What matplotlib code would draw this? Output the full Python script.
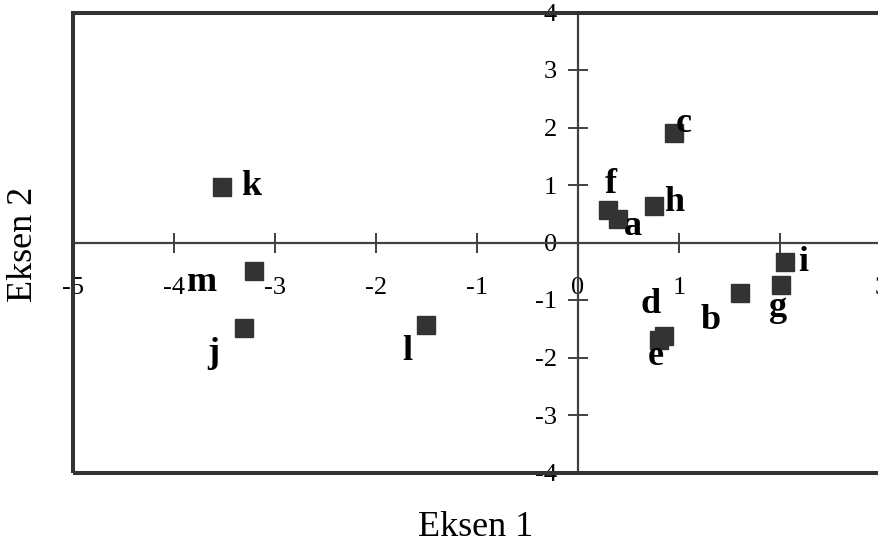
import matplotlib
matplotlib.use("Agg")
import matplotlib.pyplot as plt
from matplotlib.patches import Rectangle

# ---- data ----
labels = ["a", "b", "c", "d", "e", "f", "g", "h", "i", "j", "k", "l", "m"]
eksen1 = [0.40, 1.60, 0.95, 0.85, 0.80, 0.30, 2.01, 0.75, 2.05, -3.31, -3.52, -1.50, -3.21]
eksen2 = [0.41, -0.88, 1.90, -1.63, -1.70, 0.57, -0.74, 0.63, -0.34, -1.49, 0.97, -1.43, -0.49]
x_ticks = [-5, -4, -3, -2, -1, 0, 1, 2, 3]
y_ticks = [-4, -3, -2, -1, 0, 1, 2, 3, 4]

# label offsets in pixels (dx right, dy down)
label_offsets = {
    "a": (15, 8), "b": (-29, 27), "c": (10, -10), "d": (-13, -32),
    "e": (-3, 16), "f": (2, -25), "g": (-3, 22), "h": (20, -4),
    "i": (18, 0), "j": (-30, 25), "k": (29, 0), "l": (-19, 27),
    "m": (-52, 12),
}

plt.rcParams["font.family"] = ["Liberation Serif", "DejaVu Serif"]
dark = "#333333"
axis_col = "#404040"

fig = plt.figure(figsize=(8.79, 5.49), dpi=100)
ax = fig.add_axes([73 / 879, (549 - 472.5) / 549, (881 - 73) / 879, 460 / 549])
ax.set_xlim(-5, 3)
ax.set_ylim(-4, 4)

for s in ("top", "right"):
    ax.spines[s].set_visible(False)
ax.spines["left"].set_position(("data", 0))
ax.spines["bottom"].set_position(("data", 0))
for s in ("left", "bottom"):
    ax.spines[s].set_linewidth(1.6)
    ax.spines[s].set_color(axis_col)

ax.tick_params(axis="both", direction="inout", length=14.4, width=1.4,
               color=axis_col, labelcolor="black")
ax.tick_params(axis="x", pad=18.0)
ax.tick_params(axis="y", pad=8.0)
ax.set_xticks(x_ticks)
ax.set_yticks(y_ticks)
ax.set_xticklabels([str(t) for t in x_ticks], fontsize=19)
ax.set_yticklabels([str(t) for t in y_ticks], fontsize=19)

frame = Rectangle((0, 0), 1, 1, transform=ax.transAxes, fill=False,
                  edgecolor=dark, linewidth=2.9, clip_on=False, zorder=5)
ax.add_patch(frame)

ax.plot(eksen1, eksen2, linestyle="none", marker="s", markersize=13.5,
        color=dark, markeredgecolor=dark, zorder=4)

for lab, x, y in zip(labels, eksen1, eksen2):
    dx, dy = label_offsets[lab]
    ax.annotate(lab, (x, y), xytext=(dx * 0.72, -dy * 0.72),
                textcoords="offset points", ha="center", va="center",
                fontsize=26, fontweight="bold", color="black", zorder=6)

fig.text(476 / 879, 1 - 527 / 549, "Eksen 1", ha="center", va="center", fontsize=26)
fig.text(24 / 879, 1 - 244 / 549, "Eksen 2", ha="center", va="center",
         rotation=90, fontsize=26)

fig.savefig("out.png", dpi=100)
